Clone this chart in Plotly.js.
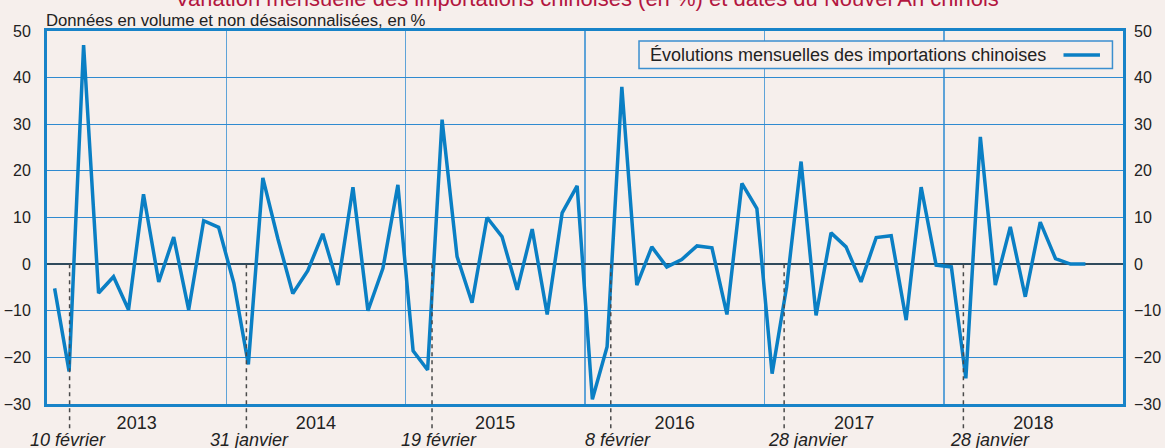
<!DOCTYPE html>
<html>
<head>
<meta charset="utf-8">
<script src="https://cdn.plot.ly/plotly-3.0.1.min.js"></script>
<style>
html,body{margin:0;padding:0;background:#f6efec;}
#chart{width:1165px;height:448px;}
</style>
</head>
<body>
<div id="chart"></div>
<script>
// ---- Data ----
const months = [
  '2013-01','2013-02','2013-03','2013-04','2013-05','2013-06','2013-07','2013-08','2013-09','2013-10','2013-11','2013-12',
  '2014-01','2014-02','2014-03','2014-04','2014-05','2014-06','2014-07','2014-08','2014-09','2014-10','2014-11','2014-12',
  '2015-01','2015-02','2015-03','2015-04','2015-05','2015-06','2015-07','2015-08','2015-09','2015-10','2015-11','2015-12',
  '2016-01','2016-02','2016-03','2016-04','2016-05','2016-06','2016-07','2016-08','2016-09','2016-10','2016-11','2016-12',
  '2017-01','2017-02','2017-03','2017-04','2017-05','2017-06','2017-07','2017-08','2017-09','2017-10','2017-11','2017-12',
  '2018-01','2018-02','2018-03','2018-04','2018-05','2018-06','2018-07','2018-08','2018-09','2018-10'
];
const imports = [
  -5.2, -23, 47, -6.2, -2.7, -9.8, 15, -3.8, 5.8, -9.8, 9.3, 7.9,
  -4.1, -21.5, 18.5, 5.5, -6.3, -1.4, 6.5, -4.5, 16.5, -10, -0.9, 17,
  -18.6, -22.7, 31, 1.6, -8.3, 10, 5.9, -5.5, 7.5, -10.8, 11, 16.8,
  -29, -17.7, 38, -4.5, 3.7, -0.6, 1, 3.9, 3.5, -10.8, 17.3, 11.9,
  -23.5, -4.9, 22, -11, 6.7, 3.7, -3.8, 5.7, 6.1, -12, 16.5, -0.2,
  -0.6, -24.5, 27.3, -4.5, 8, -7, 9, 1.2, 0, 0
];
const seriesName = 'Évolutions mensuelles des importations chinoises';
const chartTitle = 'Variation mensuelle des importations chinoises (en %) et dates du Nouvel An chinois';
const subTitle = 'Données en volume et non désaisonnalisées, en %';
// Chinese New Year markers (position on the time axis as drawn, and label)
const cnyDates  = ['2013-02-16','2014-02-11','2015-02-24','2016-02-23','2017-02-10','2018-02-10'];
const cnyLabels = ['10 février','31 janvier','19 février','8 février','28 janvier','28 janvier'];
const yTicks = [-30,-20,-10,0,10,20,30,40,50];

// ---- Style ----
const BG = '#f6efec';
const LINE = '#0a7fc4';
const BORDER = '#1883c8';
const TXT = '#222222';
const FONT = 'Liberation Sans, Arial, sans-serif';
const labelShift = [-2, 3, 7, 7, 24, 27];

const trace = {
  x: months, y: imports, type: 'scatter', mode: 'lines',
  xperiod: 'M1', xperiodalignment: 'middle',
  line: {color: LINE, width: 3.5},
  name: seriesName, showlegend: false, hoverinfo: 'x+y'
};
const ghost = {
  x: [months[0]], y: [0], yaxis: 'y2', type: 'scatter', mode: 'markers',
  marker: {opacity: 0}, showlegend: false, hoverinfo: 'skip'
};

const shapes = [];
const annotations = [];
cnyDates.forEach((d, i) => {
  shapes.push({type: 'line', xref: 'x', yref: 'paper', x0: d, x1: d, y0: 0.375, y1: -0.065,
    line: {color: '#4a4a4a', width: 1.5, dash: '4px,4px'}, layer: 'above'});
  annotations.push({xref: 'x', yref: 'paper', x: d, y: -0.0965, yanchor: 'middle', xanchor: 'center',
    xshift: labelShift[i],
    text: '<i>' + cnyLabels[i] + '</i>', showarrow: false,
    font: {family: FONT, size: 18, color: TXT}});
});
// manual legend
shapes.push({type: 'rect', xref: 'paper', yref: 'paper', x0: 0.5502, x1: 0.9902, y0: 0.8995, y1: 0.9732,
  fillcolor: BG, line: {color: '#3b8fcf', width: 1.5}, layer: 'above'});
shapes.push({type: 'line', xref: 'paper', yref: 'paper', x0: 0.9447, x1: 0.9786, y0: 0.9357, y1: 0.9357,
  line: {color: LINE, width: 3.5}, layer: 'above'});
annotations.push({xref: 'paper', yref: 'paper', x: 0.5586, y: 0.9357, xanchor: 'left', yanchor: 'middle',
  text: seriesName, showarrow: false,
  font: {family: FONT, size: 18, color: TXT}});
// subtitle
annotations.push({xref: 'paper', yref: 'paper', x: -0.0025, y: 1.0, xanchor: 'left', yanchor: 'bottom', yshift: -1,
  text: subTitle, showarrow: false,
  font: {family: FONT, size: 16.7, color: TXT}});
// main title (cut at the top edge, as in the source)
annotations.push({xref: 'paper', yref: 'paper', x: 0.502, y: 1.0, xanchor: 'center', yanchor: 'middle', yshift: 33,
  text: chartTitle, showarrow: false,
  font: {family: FONT, size: 22, color: '#b3163f'}});

const layout = {
  width: 1165, height: 448,
  margin: {l: 47, r: 42, t: 31, b: 44, pad: 0},
  paper_bgcolor: BG, plot_bgcolor: BG,
  font: {family: FONT, color: TXT},
  showlegend: false,
  xaxis: {
    type: 'date', range: ['2013-01-01', '2019-01-01'],
    dtick: 'M12', tick0: '2013-01-01', tickformat: '%Y', ticklabelmode: 'period',
    showgrid: true, gridcolor: '#5ea3d8', gridwidth: 1.5,
    showline: true, linecolor: BORDER, linewidth: 3, mirror: true,
    ticks: '', tickfont: {size: 18, color: TXT}, ticklabelstandoff: 0,
    zeroline: false, fixedrange: true
  },
  yaxis: {
    range: [-30, 50], tickvals: yTicks, ticktext: yTicks.map(v => v < 0 ? '−' + Math.abs(v) : String(v)),
    showgrid: true, gridcolor: '#2f8ad0', gridwidth: 1.2,
    zeroline: true, zerolinecolor: '#2f4a5c', zerolinewidth: 1.6,
    showline: true, linecolor: BORDER, linewidth: 3, mirror: true,
    ticks: '', tickfont: {size: 16, color: TXT}, ticklabelstandoff: 10, fixedrange: true
  },
  yaxis2: {
    overlaying: 'y', side: 'right', range: [-30, 50],
    tickvals: yTicks, ticktext: yTicks.map(v => v < 0 ? '−' + Math.abs(v) : String(v)),
    showgrid: false, zeroline: false, showline: false,
    ticks: '', tickfont: {size: 16, color: TXT}, ticklabelstandoff: 10, fixedrange: true
  },
  shapes: shapes,
  annotations: annotations
};

Plotly.newPlot('chart', [trace, ghost], layout, {displayModeBar: false, staticPlot: true});
</script>
</body>
</html>
